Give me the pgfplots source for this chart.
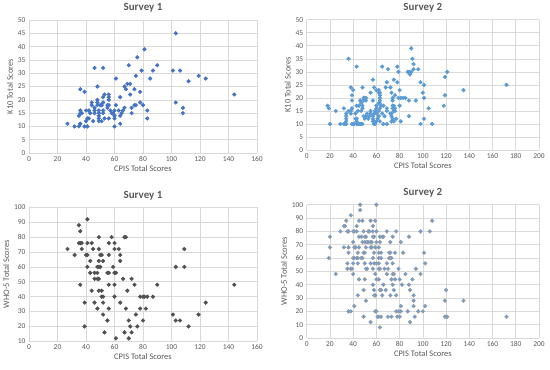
\documentclass[border=0pt]{standalone}
\usepackage{pgfplots}
\pgfplotsset{compat=1.18}
\usepackage{fontspec}
\setmainfont{Carlito}
\definecolor{gridc}{HTML}{D9D9D9}
\definecolor{txt}{HTML}{595959}
\definecolor{bluea}{HTML}{4472C4}
\definecolor{blueb}{HTML}{5B9BD5}
\definecolor{greyc}{HTML}{505050}
\definecolor{blued}{HTML}{6F9FD6}
\definecolor{edged}{HTML}{9A9A9A}
\pgfplotsset{
  excel/.style={
    scale only axis, anchor=south west,
    axis line style={draw=none},
    grid=major, grid style={gridc, line width=0.6pt},
    tick style={draw=none},
    ticklabel style={font=\fontsize{7.5}{8}\selectfont, text=txt},
    /pgf/number format/assume math mode=true,
    label style={font=\fontsize{8.5}{9}\selectfont, text=txt},
    title style={font=\fontsize{11}{12}\selectfont\bfseries, text=txt, yshift=-2pt},
    xlabel={CPIS Total Scores},
    xlabel style={yshift=3pt},
    ylabel style={yshift=-2pt},
    clip=false,
  },
}
\begin{document}
\begin{tikzpicture}[x=1bp,y=1bp]
\path (0,0) rectangle (550,365);
% Panel 1
\begin{axis}[excel, at={(29bp,216bp)}, width=228bp, height=133bp,
  xmin=0,xmax=160,xtick={0,20,...,160}, ymin=0,ymax=50,ytick={0,5,...,50},
  title={Survey 1}, ylabel={K10 Total Scores}]
\addplot[only marks, mark=*, mark size=1.9bp, bluea] coordinates {
(27,11)(32,10)(35,10)(36,11)(36,11)(35,14)(36,16)(36,15)(37,15)(36,24)(39,23)
(39,10)(41,10)(40,12)(40,16)(42,16)(41,13)(42,13)(43,15)(44,18)(44,19)(45,12)
(46,15)(46,16)(46,17)(46,32)(48,25)(48,20)(48,19)(48,18)(49,16)(49,15)(49,14)
(49,13)(49,12)(50,18)(51,18)(51,12)(52,16)(52,15)(52,19)(52,21)(53,22)(52,32)
(53,13)(55,18)(56,18)(55,17)(56,22)(56,21)(56,20)(56,13)(57,16)(58,15)(59,15)
(60,14)(60,14)(60,13)(60,16)(60,10)(61,18)(61,28)(63,16)(64,21)(64,11)(64,14)
(65,15)(66,16)(67,17)(67,25)(68,24)(69,26)(71,26)(70,33)(71,22)(72,15)(72,17)
(74,24)(74,18)(75,18)(75,29)(76,36)(78,23)(78,19)(79,31)(80,18)(81,39)(83,13)
(83,16)(85,28)(87,31)(90,33)(101,31)(103,45)(103,19)(106,31)(108,17)(108,15)
(112,27)(119,29)(124,28)(144,22)
};
\end{axis}
% Panel 2
\begin{axis}[excel, at={(306.7bp,219bp)}, width=232.3bp, height=130.3bp,
  xmin=0,xmax=200,xtick={0,20,...,200}, ymin=0,ymax=50,ytick={0,5,...,50},
  title={Survey 2}, ylabel={K10 Total Scores}]
\addplot[only marks, mark=*, mark size=1.9bp, blueb] coordinates {
(18,17)(19,16)(20,10)(25,15)(29,10)(32,10)(33,10)(34,10)(32,16)(34,11)(34,12)
(34,13)(34,14)(36,15)(36,35)(38,24)(40,23)(39,21)(39,19)(39,16)(38,15)(38,14)
(39,10)(40,10)(41,10)(43,10)(44,10)(45,10)(46,10)(47,10)(48,10)(43,32)(42,12)
(43,12)(43,11)(42,14)(44,15)(43,17)(45,17)(47,15)(48,16)(48,17)(48,24)(49,20)
(50,20)(51,20)(51,19)(49,19)(46,19)(47,18)(49,13)(50,12)(51,13)(52,14)(53,12)
(54,13)(55,14)(55,15)(55,22)(57,19)(57,13)(57,12)(57,11)(58,11)(58,10)(59,10)
(60,11)(58,14)(59,15)(60,16)(60,17)(57,27)(58,24)(60,23)(62,23)(62,22)(63,22)
(63,21)(63,20)(63,19)(60,14)(61,12)(62,13)(62,15)(63,16)(64,17)(62,18)(63,18)
(63,11)(65,32)(65,14)(66,17)(66,10)(69,10)(67,13)(68,24)(69,26)(70,31)(69,16)
(69,15)(72,14)(73,14)(73,13)(72,24)(73,11)(74,12)(75,11)(73,22)(74,20)(74,19)
(75,27)(74,17)(74,16)(75,15)(75,17)(76,15)(76,16)(76,21)(77,12)(78,32)(78,26)
(79,30)(80,23)(79,20)(81,20)(83,20)(85,20)(80,17)(81,11)(87,30)(88,30)(89,29)
(90,30)(88,19)(88,13)(90,39)(91,35)(92,33)(92,31)(96,31)(94,19)(98,26)(98,10)
(100,22)(101,20)(101,25)(101,12)(105,16)(108,10)(118,17)(119,28)(119,21)
(121,30)(135,23)(172,25)
};
\end{axis}
% Panel 3
\begin{axis}[excel, at={(29bp,27.7bp)}, width=228bp, height=134bp,
  xmin=0,xmax=160,xtick={0,20,...,160}, ymin=10,ymax=100,ytick={10,20,...,100},
  title={Survey 1}, ylabel={WHO-5 Total Scores}]
\addplot[only marks, mark=*, mark size=1.9bp, greyc] coordinates {
(27,72)(32,68)(35,88)(36,84)(35,76)(36,76)(37,76)(37,72)(36,48)(41,92)(39,36)
(39,20)(41,76)(40,68)(41,68)(41,60)(43,64)(43,56)(44,76)(45,72)(44,44)(46,56)
(48,56)(46,52)(48,52)(46,36)(48,32)(48,60)(49,60)(50,60)(49,64)(49,80)(49,72)
(49,52)(49,44)(51,44)(50,68)(51,68)(51,40)(52,40)(52,64)(52,28)(52,36)(53,16)
(55,56)(56,56)(56,76)(56,68)(56,48)(56,32)(55,24)(58,80)(59,60)(60,48)(60,40)
(60,76)(60,72)(60,56)(61,56)(61,12)(63,72)(64,68)(64,64)(64,36)(66,52)(67,80)
(68,80)(67,16)(68,32)(69,44)(70,24)(70,12)(71,20)(72,52)(72,16)(74,48)(75,28)
(76,20)(78,32)(78,40)(80,40)(80,24)(81,40)(82,32)(83,40)(87,40)(90,48)(101,28)
(103,60)(109,60)(103,24)(106,24)(109,72)(112,20)(119,28)(124,36)(144,48)
};
\end{axis}
% Panel 4
\begin{axis}[excel, at={(306.7bp,31bp)}, width=232.3bp, height=133.3bp,
  xmin=0,xmax=200,xtick={0,20,...,200}, ymin=0,ymax=100,ytick={0,10,...,100},
  title={Survey 2}, ylabel={WHO-5 Total Scores}]
\addplot[only marks, mark=*, mark size=1.9bp, draw=edged, fill=blued, line width=0.4pt] coordinates {
(19,60)(20,76)(20,68)(25,48)(29,80)(32,68)(32,84)(33,84)(34,88)(35,56)(35,52)
(35,80)(36,80)(36,68)(36,64)(36,20)(38,20)(38,92)(38,52)(39,52)(40,80)(41,80)
(40,72)(40,60)(41,60)(40,56)(40,48)(41,68)(42,68)(41,24)(43,84)(43,80)(44,64)
(44,60)(43,60)(44,56)(45,76)(44,32)(45,44)(45,88)(45,68)(46,100)(46,96)(47,76)
(48,72)(48,88)(47,60)(48,60)(49,80)(50,72)(49,64)(50,64)(49,36)(49,16)(50,56)
(50,44)(50,76)(51,76)(51,68)(51,52)(52,52)(51,28)(52,72)(53,72)(53,80)(54,80)
(55,88)(55,68)(56,68)(55,72)(56,72)(55,56)(55,12)(57,84)(57,80)(57,40)(57,60)
(57,52)(57,76)(58,76)(58,64)(58,32)(59,32)(58,36)(58,56)(59,68)(59,88)(59,48)
(59,20)(60,20)(60,100)(60,80)(60,72)(60,56)(60,44)(61,16)(62,16)(62,52)(62,60)
(62,68)(62,64)(62,56)(62,44)(63,72)(63,36)(64,36)(63,76)(63,52)(64,60)(64,64)
(65,32)(63,8)(64,16)(65,76)(66,76)(66,40)(67,52)(68,36)(69,56)(70,52)(69,80)
(70,16)(73,16)(69,48)(71,64)(72,64)(71,60)(72,60)(73,60)(72,32)(72,72)(73,44)
(74,56)(74,48)(75,48)(74,76)(74,40)(75,36)(76,44)(76,64)(77,32)(77,20)(77,80)
(78,16)(79,52)(79,20)(81,20)(80,44)(80,16)(81,72)(81,24)(82,40)(83,64)(85,48)
(87,20)(88,76)(88,40)(89,36)(89,12)(91,44)(92,24)(92,32)(92,28)(93,16)(94,52)
(96,20)(98,80)(98,48)(100,20)(101,64)(102,56)(102,24)(106,80)(108,88)(119,28)
(120,36)(119,16)(120,16)(121,16)(135,28)(172,16)
};
\end{axis}
\end{tikzpicture}
\end{document}
